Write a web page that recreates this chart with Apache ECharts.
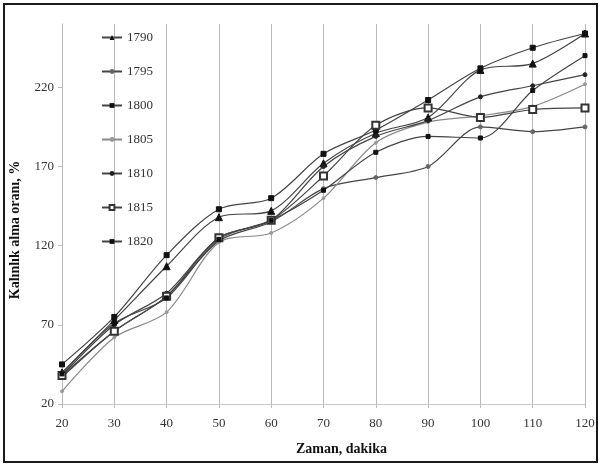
<!DOCTYPE html>
<html>
<head>
<meta charset="utf-8">
<script src="https://cdn.jsdelivr.net/npm/echarts@6/dist/echarts.min.js"></script>
<style>
  html, body { margin: 0; padding: 0; background: #fff; }
  #frame { position: absolute; left: 3px; top: 3px; width: 591px; height: 456px; border: 2px solid #1a1a1a; }
  #main { position: absolute; left: 0; top: 0; width: 599px; height: 466px; }
</style>
</head>
<body>
<div id="frame"></div>
<div id="main"></div>
<script>
// zaman (dakika)
const minutes = [20, 30, 40, 50, 60, 70, 80, 90, 100, 110, 120]
const seriesNames = ['1790', '1795', '1800', '1805', '1810', '1815', '1820']
// kalinlik alma orani, %
const s1790 = [40, 73, 107, 138, 142, 172, 191, 201, 231, 235, 254]
const s1795 = [37, 66, 88, 123, 135, 156, 163, 170, 195, 192, 195]
const s1800 = [45, 75, 114, 143, 150, 178, 193, 212, 232, 245, 254]
const s1805 = [28, 62, 78, 122, 128, 150, 185, 198, 202, 208, 222]
const s1810 = [38, 70, 90, 125, 136, 170, 189, 199, 214, 221, 228]
const s1815 = [38, 66, 88, 125, 136, 164, 196, 207, 201, 206, 207]
const s1820 = [39, 71, 87, 124, 136, 155, 179, 189, 188, 218, 240]
const yTicks = [20, 70, 120, 170, 220]

const values = [s1790, s1795, s1800, s1805, s1810, s1815, s1820]
const markers = [
    {symbol: 'triangle', size: 7, color: '#111'},
    {symbol: 'circle', size: 4, color: '#666'},
    {symbol: 'rect', size: 5, color: '#111'},
    {symbol: 'circle', size: 3, color: '#999'},
    {symbol: 'circle', size: 4, color: '#222'},
    {symbol: 'emptyRect', size: 7, color: '#333'},
    {symbol: 'rect', size: 4, color: '#111'}
]
const serif = 'Liberation Serif'

let myChart = echarts.init(document.getElementById('main'))
let option = {
    animation: false,
    grid: {left: 62, right: 14, top: 24, bottom: 62},
    legend: {
        orient: 'vertical',
        left: 96,
        top: 26,
        itemWidth: 20,
        itemHeight: 6,
        itemGap: 21,
        data: seriesNames,
        textStyle: {fontFamily: serif, fontSize: 13, color: '#333'}
    },
    xAxis: {
        type: 'value',
        min: 20,
        max: 120,
        interval: 10,
        name: 'Zaman, dakika',
        nameLocation: 'middle',
        nameGap: 38,
        nameTextStyle: {fontFamily: serif, fontSize: 14, fontWeight: 'bold', color: '#111', padding: [0, 0, 0, 36]},
        axisLine: {lineStyle: {color: '#c8c8c8'}},
        axisTick: {show: true, length: 4, lineStyle: {color: '#bbb'}},
        axisLabel: {fontFamily: serif, fontSize: 13, color: '#333', margin: 13},
        splitLine: {show: true, lineStyle: {color: '#b8b8b8', width: 1}}
    },
    yAxis: {
        type: 'value',
        min: yTicks[0],
        max: 260,
        interval: 50,
        name: 'Kalınlık alma oranı, %',
        nameLocation: 'middle',
        nameGap: 40,
        nameTextStyle: {fontFamily: serif, fontSize: 14, fontWeight: 'bold', color: '#111', padding: [0, 32, 0, 0]},
        axisLine: {show: true, lineStyle: {color: '#b8b8b8'}},
        axisTick: {show: true, length: 4, lineStyle: {color: '#bbb'}},
        axisLabel: {fontFamily: serif, fontSize: 13, color: '#333', margin: 8, showMaxLabel: false},
        splitLine: {show: false}
    },
    series: seriesNames.map((name, i) => ({
        name: name,
        type: 'line',
        smooth: 0.3,
        data: minutes.map((m, j) => [m, values[i][j]]),
        symbol: markers[i].symbol,
        symbolSize: markers[i].size,
        itemStyle: {color: markers[i].color, borderColor: markers[i].color},
        lineStyle: {color: i === 3 ? '#888' : '#444', width: 1.2}
    }))
}
myChart.setOption(option)
</script>
</body>
</html>
